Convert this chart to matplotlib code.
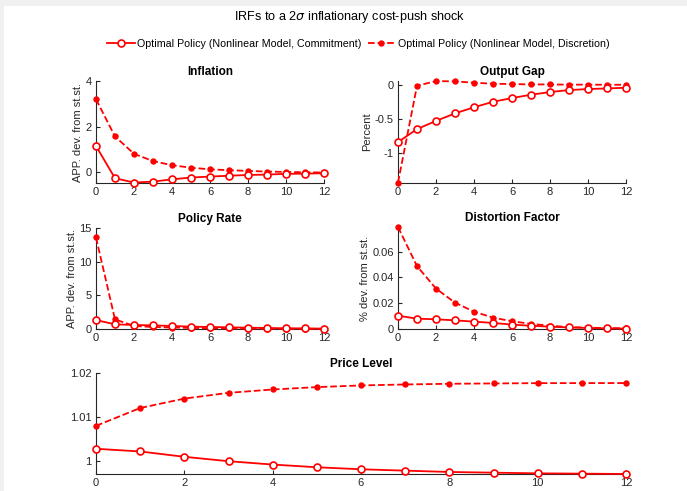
import numpy as np
import matplotlib
matplotlib.use("Agg")
import matplotlib.pyplot as plt
from matplotlib.lines import Line2D
from matplotlib.patches import Rectangle

plt.rcParams["font.family"] = ["Liberation Sans", "DejaVu Sans"]
plt.rcParams["mathtext.fontset"] = "dejavusans"

# === Data ===
horizon = np.arange(13)

infl_commit = [1.15, -0.26, -0.45, -0.41, -0.31, -0.23, -0.19, -0.15, -0.12, -0.10, -0.07, -0.06, -0.04]
infl_discr = [3.20, 1.57, 0.81, 0.49, 0.31, 0.20, 0.13, 0.09, 0.06, 0.03, 0.015, 0.0, -0.01]

gap_commit = [-0.84, -0.65, -0.53, -0.42, -0.33, -0.25, -0.195, -0.146, -0.107, -0.078, -0.063, -0.054, -0.044]
gap_discr = [-1.434, -0.015, 0.054, 0.049, 0.030, 0.015, 0.010, 0.005, 0.004, 0.002, 0.001, 0.0, 0.0]

rate_commit = [1.33, 0.69, 0.60, 0.54, 0.45, 0.35, 0.30, 0.25, 0.20, 0.15, 0.10, 0.09, 0.05]
rate_discr = [13.6, 1.43, 0.45, 0.30, 0.22, 0.16, 0.12, 0.09, 0.07, 0.05, 0.04, 0.03, 0.02]

dist_commit = [0.0103, 0.0080, 0.0075, 0.0067, 0.0057, 0.0047, 0.0034, 0.0025, 0.0018, 0.0012, 0.0008, 0.0005, 0.0003]
dist_discr = [0.079, 0.0487, 0.0313, 0.0204, 0.0134, 0.0088, 0.0060, 0.0040, 0.0025, 0.0015, 0.0010, 0.0007, 0.0005]

price_commit = [1.00282, 1.00221, 1.00100, 1.00000, 0.99924, 0.99863, 0.99817, 0.99786, 0.99756, 0.99740, 0.99725, 0.99718, 0.99710]
price_discr = [1.00802, 1.01206, 1.01420, 1.01550, 1.01626, 1.01680, 1.01718, 1.01740, 1.01756, 1.01763, 1.01770, 1.01771, 1.01772]

legend_labels = ["Optimal Policy (Nonlinear Model, Commitment)",
                 "Optimal Policy (Nonlinear Model, Discretion)"]

# === Figure ===
W, H = 687, 491
fig = plt.figure(figsize=(W / 100, H / 100), dpi=100)
fig.patch.set_facecolor("#f0f0f0")
fig.patches.append(Rectangle((4 / W, 0), 1, 1 - 6 / H, transform=fig.transFigure,
                             facecolor="white", edgecolor="none", zorder=-1))

axcol = "#262626"
red = (1, 0, 0)


def make_ax(left, top, right, bottom):
    return fig.add_axes([left / W, 1 - bottom / H, (right - left) / W, (bottom - top) / H])


def draw(ax, commit, discr, title, ylabel, ylim, yticks, yticklabels=None):
    ax.plot(horizon, discr, "--o", color=red, lw=1.3, ms=4.6, mfc=red, mew=0, clip_on=False, zorder=3)
    ax.plot(horizon, commit, "-o", color=red, lw=1.3, ms=5, mfc="white", mew=1.2, clip_on=False, zorder=4)
    ax.set_xlim(0, 12)
    ax.set_ylim(*ylim)
    ax.set_xticks(range(0, 13, 2))
    ax.set_yticks(yticks)
    if yticklabels is not None:
        ax.set_yticklabels(yticklabels)
    ax.set_title(title, fontsize=8.5, fontweight="bold", pad=4, color="black")
    if ylabel:
        ax.set_ylabel(ylabel, fontsize=8, color=axcol, labelpad=2)
    for s in ["top", "right"]:
        ax.spines[s].set_visible(False)
    for s in ["left", "bottom"]:
        ax.spines[s].set_color(axcol)
        ax.spines[s].set_linewidth(0.8)
    ax.tick_params(direction="in", length=3, width=0.8, colors=axcol, labelsize=8, pad=3)


ax1 = make_ax(96, 81, 324, 183)
draw(ax1, infl_commit, infl_discr, "Inflation", "APP. dev. from st.st.", (-0.47, 4), [0, 2, 4])

ax2 = make_ax(398, 81, 626, 183)
draw(ax2, gap_commit, gap_discr, "Output Gap", "Percent", (-1.44, 0.055), [-1, -0.5, 0], ["-1", "-0.5", "0"])

ax3 = make_ax(96, 228, 324, 329)
draw(ax3, rate_commit, rate_discr, "Policy Rate", "APP. dev. from st.st.", (0, 15), [0, 5, 10, 15])

ax4 = make_ax(398, 227, 626, 329)
draw(ax4, dist_commit, dist_discr, "Distortion Factor", "% dev. from st.st.", (0, 0.079), [0, 0.02, 0.04, 0.06],
     ["0", "0.02", "0.04", "0.06"])

ax5 = make_ax(96, 373, 626, 474)
draw(ax5, price_commit, price_discr, "Price Level", None, (0.9971, 1.02), [1, 1.01, 1.02], ["1", "1.01", "1.02"])

fig.text(350 / W, 1 - 17 / H, r"IRFs to a 2$\sigma$ inflationary cost-push shock",
         ha="center", va="center", fontsize=9.1, color="black")

handles = [Line2D([], [], color=red, lw=1.3, marker="o", ms=5, mfc="white", mew=1.2),
           Line2D([], [], color=red, lw=1.3, ls="--", marker="o", ms=4.6, mfc=red, mew=0)]
fig.legend(handles, legend_labels, loc="center", bbox_to_anchor=(358 / W, 1 - 44 / H), ncol=2,
           frameon=False, fontsize=7.7, handlelength=2.6, handletextpad=0.2, columnspacing=0.6)

plt.savefig("out.png", dpi=100)
